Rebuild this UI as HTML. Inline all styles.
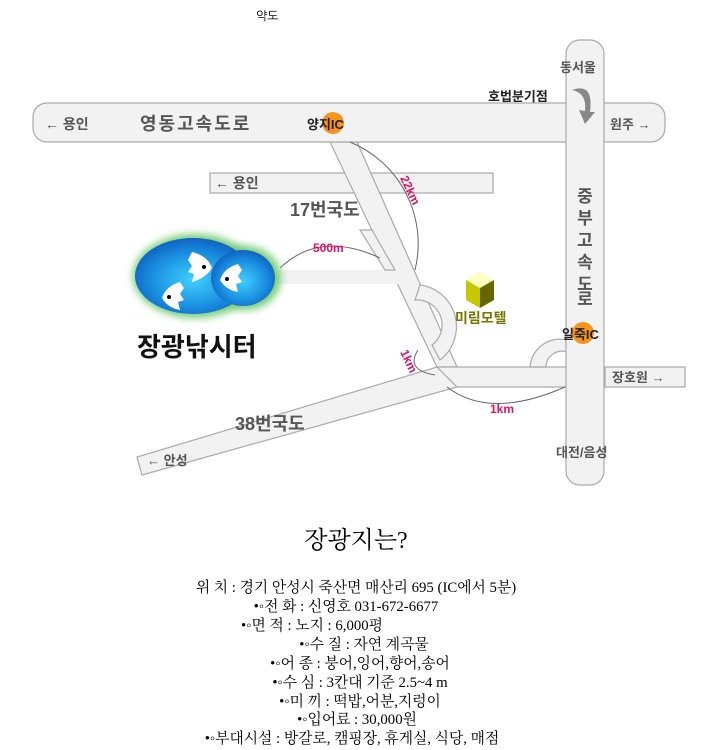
<!DOCTYPE html>
<html><head><meta charset="utf-8"><style>
body{margin:0;background:#fff;width:704px;height:750px;overflow:hidden;font-family:"Liberation Sans","Noto Sans CJK KR",sans-serif}
.t{position:absolute;left:0;width:704px;text-align:center;font-family:"Liberation Serif","Noto Serif CJK SC","NanumGothic",serif;font-size:14.8px;color:#000;line-height:17px}
</style></head><body>
<svg width="704" height="750" style="position:absolute;left:0;top:0" font-family="Liberation Sans, Noto Sans CJK KR, sans-serif">
<defs>
<radialGradient id="pg" cx="0.5" cy="0.55" r="0.6"><stop offset="0" stop-color="#3fd0ff"/><stop offset="0.6" stop-color="#1a8ee0"/><stop offset="1" stop-color="#0a58b8"/></radialGradient>
<filter id="bl"><feGaussianBlur stdDeviation="4"/></filter>
</defs>
<text x="256" y="20" font-size="12" font-family="NanumGothic, sans-serif">약도</text>
<g fill="#f2f2f2" stroke="#aaa" stroke-width="1.2">
<rect x="210" y="173" width="283" height="20"/>
<rect x="605" y="367" width="80" height="20"/>
<polygon points="330,142 357,142 457,367 437,367"/>
<polygon points="437,367 457,387 142,475 137,457"/>
<rect x="277" y="270" width="125" height="14" stroke="none"/>
<polygon points="360,230 372,230 395,270 385,270" />
<polygon points="437,367 567,367 567,387 457,387"/>
<path d="M420,285 A42,42 0 0 1 440,360 L432,345 A25,25 0 0 0 415,300 Z"/>
<path d="M530,367 A30,30 0 0 1 567,340 L567,352 A16,16 0 0 0 546,367 Z"/>
<rect x="33" y="103" width="632" height="39" rx="14"/>
<rect x="566" y="40" width="38" height="445" rx="14"/>
</g>
<g fill="#f2f2f2"><rect x="567" y="104" width="36" height="37"/><rect x="340" y="143" width="14" height="3"/></g>
<g fill="none" stroke="#666" stroke-width="1"><path d="M350,142 A110,110 0 0 1 415,270"/><path d="M280,268 Q320,230 380,258"/><path d="M418,350 Q405,370 435,375"/><path d="M447,387 Q490,420 565,387"/></g>
<g fill="#888"><path d="M572,90 q22,-8 18,22 l5,0 -10,12 -6,-14 6,1 q2,-18 -13,-21z"/></g>
<circle cx="333" cy="123" r="11" fill="#f7931e"/>
<circle cx="583" cy="333" r="11" fill="#f7931e"/>
<g font-weight="bold" fill="#555" font-size="14">
<text x="45" y="129">← 용인</text>
<text x="140" y="130" font-size="18" letter-spacing="2">영동고속도로</text>
<text x="215" y="188" font-size="14">← 용인</text>
<text x="290" y="216" font-size="18">17번국도</text>
<text x="235" y="430" font-size="18">38번국도</text>
<text x="147" y="465" font-size="13">← 안성</text>
<text x="610" y="129" font-size="13">원주 →</text>
<text x="612" y="382" font-size="13">장호원 →</text>
<text x="560" y="72" font-size="13">동서울</text>
<text x="556" y="457" font-size="13">대전/음성</text>
</g>
<g font-weight="bold" fill="#555" font-size="17" text-anchor="middle"><text x="585" y="202">중</text><text x="585" y="224">부</text><text x="585" y="246">고</text><text x="585" y="268">속</text><text x="585" y="290">도</text><text x="585" y="305">로</text></g>
<g fill="#222" font-size="13" font-weight="bold"><text x="307" y="129">양지IC</text><text x="562" y="339">일죽IC</text><text x="488" y="101">호법분기점</text></g>
<g fill="#e0115f" font-size="12" font-weight="bold"><text x="313" y="252">500m</text><text x="490" y="413">1km</text>
<text transform="translate(400,178) rotate(65)">22km</text><text transform="translate(400,352) rotate(65)">1km</text></g>
<g>
<ellipse cx="195" cy="276" rx="62" ry="42" fill="#7c7" filter="url(#bl)"/><ellipse cx="245" cy="278" rx="36" ry="32" fill="#7c7" filter="url(#bl)"/>
<ellipse cx="193" cy="276" rx="58" ry="38" fill="url(#pg)"/><ellipse cx="243" cy="278" rx="32" ry="28" fill="url(#pg)"/>
<g fill="#fff">
<path d="M192,252 q16,4 20,16 q-6,10 -20,14 l2,-8 -6,-2 4,-6 -4,-6z"/>
<path d="M180,282 q-14,4 -18,16 q6,10 18,12 l-2,-8 6,-2 -4,-6 4,-6z"/>
<path d="M238,264 q-14,4 -18,16 q6,10 18,12 l-2,-8 6,-2 -4,-6 4,-6z"/>
</g>
<g fill="#000"><circle cx="204" cy="267" r="2"/><circle cx="169" cy="297" r="2"/><circle cx="227" cy="279" r="2"/></g>
</g>
<text x="137" y="356" font-size="26" font-weight="bold" fill="#111">장광낚시터</text>
<polygon points="466,280 480,272 494,280 480,288" fill="#ffffc0"/><polygon points="466,280 480,288 480,308 466,300" fill="#c8c800"/><polygon points="494,280 480,288 480,308 494,300" fill="#666600"/>
<text x="455" y="323" font-size="14" font-weight="bold" fill="#777700">미림모텔</text>
</svg>
<div class="t" style="top:526px;font-size:24px;left:4px;line-height:30px">장광지는?</div>
<div class="t" style="top:580px;left:4px">위 치 : 경기 안성시 죽산면 매산리 695 (IC에서 5분)</div>
<div class="t" style="top:599px;left:-6px">•◦전 화 : 신영호 031-672-6677</div>
<div class="t" style="top:618px;left:-40px">•◦면 적 : 노지 : 6,000평</div>
<div class="t" style="top:637px;left:12px">•◦수 질 : 자연 계곡물</div>
<div class="t" style="top:656px;left:8px">•◦어 종 : 붕어,잉어,향어,송어</div>
<div class="t" style="top:675px;left:8px">•◦수 심 : 3칸대 기준 2.5~4 m</div>
<div class="t" style="top:694px;left:8px">•◦미 끼 : 떡밥,어분,지렁이</div>
<div class="t" style="top:712px;left:5px">•◦입어료 : 30,000원</div>
<div class="t" style="top:731px;left:0">•◦부대시설 : 방갈로, 캠핑장, 휴게실, 식당, 매점</div>
</body></html>
